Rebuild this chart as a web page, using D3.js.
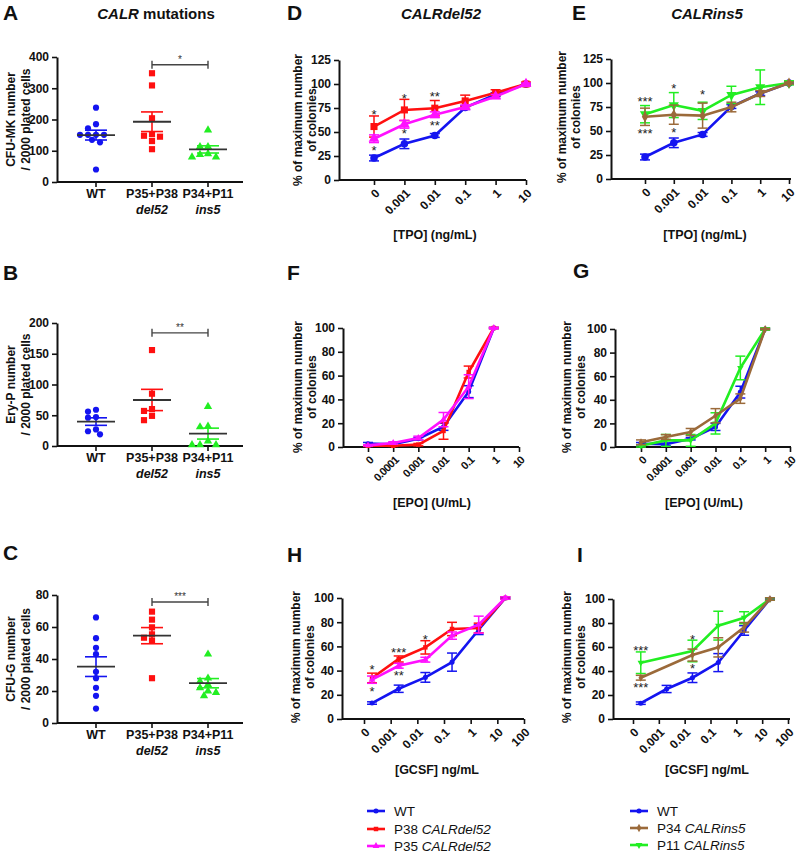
<!DOCTYPE html>
<html><head><meta charset="utf-8">
<script src="https://cdn.jsdelivr.net/npm/d3@7"></script>
<style>body{margin:0;background:#fff}svg{font-family:"Liberation Sans",Arial,sans-serif}</style>
</head><body><svg id="c" width="800" height="856"></svg>
<script>
// ---------- DATA ----------
const groupLabels = ["WT","P35+P38","P34+P11"];
const groupSub = ["","del52","ins5"];
// Panel A: CFU-MK number / 2000 plated cells
const mkWT = [238,185,172,151,151,151,151,135,127,40];
const mkDel52 = [348,309,204,153,145,148,131,105];
const mkIns5 = [166,113,113,90,88,80,80];
// Panel B: Ery-P
const eryWT = [59,56,47,46,27,24,19];
const eryDel52 = [156,85,60,57,49,42];
const eryIns5 = [64,31,32,8,2,2,2];
// Panel C: CFU-G
const gWT = [66,53,47,43,32,28,22,17,9];
const gDel52 = [69.6,64.6,59.8,55.4,53.3,51.4,28];
const gIns5 = [43,28,26,24,22,20,19,17];

// TPO panels D,E
const tpoDoses = ["0","0.001","0.01","0.1","1","10"];
const tpoWT = [22.9,37.7,46.4,75.5,89,100];     const tpoWTerr = [3,5,2,2,2,1];
const tpoP38 = [55.7,73,74.8,82.4,91,100];      const tpoP38err = [11,11,8,6,3,2];
const tpoP35 = [43,58,68,76,87,100];            const tpoP35err = [4,4,3,2,2,1];
const tpoP11 = [67.5,77,71,87.6,95.6,100];      const tpoP11err = [9,13,9,9,18,2];
const tpoP34 = [64.8,67,66,75,89,100];          const tpoP34err = [9,10,13,5,3,1];

// EPO panels F,G
const epoDoses = ["0","0.0001","0.001","0.01","0.1","1","10"];
const epoWT = [2.8,2.3,7,17,46.5,100];          const epoWTerr = [1,1,1,3,5,0.5];
const epoP38 = [1,1,2,13.5,63,100];             const epoP38err = [0.5,0.5,1,7,5,0.5];
const epoP35 = [1.4,3.4,7.6,23,50.7,100];       const epoP35err = [0.5,1,1.5,6,10,0.5];
const epoP11 = [1,5.6,5.6,20,67,100];           const epoP11err = [1,5,5,9,10,1];
const epoP34 = [4,8.5,12.7,26.5,41,100];        const epoP34err = [2,2,3,6,4,0.5];

// GCSF panels H,I (log axis, "0" drawn at 0.0002)
const gcsfTicks = [1e-4,1e-3,1e-2,1e-1,1,10,100];
const gcsfTickLabels = ["0","0.001","0.01","0.1","1","10","100"];
const gcsfDoses = [0.0002,0.002,0.02,0.2,2,20];
const gcsfWT = [13.2,25,34.4,47,73.8,100];      const gcsfWTerr = [1,3,4,7.5,4,0.5];
const gcsfP38 = [33.9,49.6,59.2,74.4,75.2,100]; const gcsfP38err = [4,2.5,5.5,5.5,4,1];
const gcsfP35 = [32.5,44,49,68.9,78,100];       const gcsfP35err = [3,2,2,3,7,1];
const gcsfInsDoses = [0.0002,0.02,0.2,2,20];
const gcsfP11 = [46.9,56.7,77.8,84.4,100];      const gcsfP11err = [9,9,12,5,1];
const gcsfP34 = [34.4,53.3,59.7,76.4,100];      const gcsfP34err = [2,5,8,4,1];

// ---------- STYLE ----------
const C = {wt:"#1414f0", p38:"#ff1010", p35:"#ff10ff", p11:"#22ee22", p34:"#9b6a3a", ax:"#111", dk:"#333"};
const svg = d3.select("#c");

function txt(g,x,y,s,o={}){
  const t=g.append("text").attr("x",x).attr("y",y).text(s)
   .attr("font-size",o.size||12).attr("font-weight",o.weight||"bold")
   .attr("text-anchor",o.anchor||"start").attr("fill",o.fill||"#111");
  if(o.italic) t.attr("font-style","italic");
  if(o.dy) t.attr("dy",o.dy);
  return t;
}
function panelLabel(x,y,s){ txt(svg,x,y,s,{size:21}); }
function yTitle(x1,x2,cy,l1,l2){
  [[x1,l1],[x2,l2]].forEach(([x,s])=>{
    svg.append("text").attr("transform",`translate(${x},${cy}) rotate(-90)`)
      .attr("text-anchor","middle").attr("dy","0.35em").attr("font-size",12)
      .attr("font-weight","bold").attr("fill","#111").text(s);
  });
}
function styleAxis(g){
  g.selectAll("path.domain").attr("stroke",C.ax).attr("stroke-width",2);
  g.selectAll(".tick line").attr("stroke",C.ax).attr("stroke-width",1.6);
  g.selectAll(".tick text").attr("font-size",12).attr("font-weight","bold").attr("fill","#111")
   .attr("font-family","'Liberation Sans',Arial,sans-serif");
}
const sym = {
  circle:d3.symbolCircle, square:d3.symbolSquare, tri:d3.symbolTriangle, diamond:d3.symbolDiamond
};

// ---------- SCATTER PANELS ----------
function swarm(vals,y,step,minD){
  const placed=[]; const off=new Array(vals.length);
  const order=vals.map((v,i)=>i).sort((a,b)=>vals[b]-vals[a]);
  for(const i of order){
    const py=y(vals[i]);
    for(let k=0;k<40;k++){
      const dx=k===0?0:(k%2?-1:1)*Math.ceil(k/2)*step;
      if(placed.every(p=>Math.hypot(p.x-dx,p.y-py)>=minD)){off[i]=dx;placed.push({x:dx,y:py});break;}
    }
  }
  return off;
}
function scatterPanel(o){
  const x0=57, x1=243;
  const y=d3.scaleLinear().domain([0,o.yMax]).range([o.yBot,o.yTop]);
  const x=d3.scalePoint().domain(groupLabels).range([96,208]);
  const ga=svg.append("g").attr("transform",`translate(${x0},0)`)
    .call(d3.axisLeft(y).tickValues(o.yTicks).tickSize(5).tickSizeOuter(0).tickPadding(3));
  styleAxis(ga);
  svg.append("line").attr("x1",x0).attr("x2",x1).attr("y1",o.yBot).attr("y2",o.yBot).attr("stroke",C.ax).attr("stroke-width",2);
  groupLabels.forEach((gname,i)=>{
    svg.append("line").attr("x1",x(gname)).attr("x2",x(gname)).attr("y1",o.yBot).attr("y2",o.yBot+5).attr("stroke",C.ax).attr("stroke-width",1.6);
    txt(svg,x(gname),o.yBot+16,gname,{anchor:"middle",size:12.5});
    if(groupSub[i]) txt(svg,x(gname),o.yBot+32,groupSub[i],{anchor:"middle",size:12.5,italic:true});
  });
  const groups=[{v:o.wt,c:C.wt,s:"circle",sz:30},{v:o.del,c:C.p38,s:"square",sz:38},{v:o.ins,c:C.p11,s:"tri",sz:30}];
  groups.forEach((G,i)=>{
    const cx=x(groupLabels[i]);
    const off=swarm(G.v,y,4,6);
    svg.append("g").selectAll("path").data(G.v).join("path")
      .attr("d",d3.symbol().type(sym[G.s]).size(G.sz))
      .attr("transform",(d,j)=>`translate(${cx+off[j]},${y(d)})`).attr("fill",G.c);
    const m=d3.mean(G.v), se=d3.deviation(G.v)/Math.sqrt(G.v.length);
    const eg=svg.append("g").attr("stroke",G.c).attr("stroke-width",1.6);
    eg.append("line").attr("x1",cx).attr("x2",cx).attr("y1",y(m-se)).attr("y2",y(m+se));
    [m-se,m+se].forEach(v=>eg.append("line").attr("x1",cx-11).attr("x2",cx+11).attr("y1",y(v)).attr("y2",y(v)));
    svg.append("line").attr("x1",cx-19).attr("x2",cx+19).attr("y1",y(m)).attr("y2",y(m)).attr("stroke",C.dk).attr("stroke-width",1.8);
  });
  // significance bar
  const sy=y(o.sigV), xa=x(groupLabels[1]), xb=x(groupLabels[2]);
  const sg=svg.append("g").attr("stroke","#444").attr("stroke-width",1.4);
  sg.append("line").attr("x1",xa).attr("x2",xb).attr("y1",sy).attr("y2",sy);
  [xa,xb].forEach(xx=>sg.append("line").attr("x1",xx).attr("x2",xx).attr("y1",sy-4).attr("y2",sy+4));
  txt(svg,(xa+xb)/2,sy-2,o.sig,{anchor:"middle",size:10,weight:"normal",fill:"#333"});
  yTitle(11,26,(o.yTop+o.yBot)/2,o.t1,o.t2);
}

// ---------- LINE PANELS ----------
function linePanel(o){
  const y=d3.scaleLinear().domain([0,o.yMax]).range([o.yBot,o.yTop]);
  const x=o.x;
  const ga=svg.append("g").attr("transform",`translate(${o.x0},0)`)
    .call(d3.axisLeft(y).tickValues(o.yTicks).tickSize(5).tickSizeOuter(0).tickPadding(3));
  styleAxis(ga);
  svg.append("line").attr("x1",o.x0).attr("x2",o.x1).attr("y1",o.yBot).attr("y2",o.yBot).attr("stroke",C.ax).attr("stroke-width",2);
  const gx=svg.append("g").attr("transform",`translate(0,${o.yBot})`)
    .call(d3.axisBottom(x).tickValues(o.tickVals).tickFormat((d,i)=>o.tickLabels[i]).tickSize(5).tickSizeOuter(0));
  styleAxis(gx);
  gx.select("path.domain").remove();
  gx.selectAll(".tick text").attr("x",0).attr("y",0).attr("dy","0.35em").attr("text-anchor","end")
    .attr("font-size",o.tickSize||12).attr("letter-spacing",o.ls||0)
    .attr("transform","translate(3,11) rotate(-45)");
  o.series.forEach(S=>{
    const pts=S.y.map((v,i)=>({x:x(S.x[i]),y:v,e:S.e[i]}));
    const g=svg.append("g");
    const eg=g.append("g").attr("stroke",S.c).attr("stroke-width",1.5);
    pts.forEach(p=>{
      eg.append("line").attr("x1",p.x).attr("x2",p.x).attr("y1",y(p.y-p.e)).attr("y2",y(p.y+p.e));
      [p.y-p.e,p.y+p.e].forEach(v=>eg.append("line").attr("x1",p.x-5).attr("x2",p.x+5).attr("y1",y(v)).attr("y2",y(v)));
    });
    g.append("path").datum(pts).attr("fill","none").attr("stroke",S.c).attr("stroke-width",2.6)
      .attr("d",d3.line().x(p=>p.x).y(p=>y(p.y)));
    g.selectAll("path.m").data(pts).join("path").attr("class","m")
      .attr("d",d3.symbol().type(sym[S.s]).size(S.sz))
      .attr("transform",p=>`translate(${p.x},${y(p.y)})${S.flip?" rotate(180)":""}`).attr("fill",S.c);
  });
  (o.stars||[]).forEach(s=>txt(svg,x(s.x),y(s.y)+7,s.t,{anchor:"middle",size:13,weight:"normal",fill:"#222"}));
  txt(svg,o.xtX,o.xtY,o.xTitle,{anchor:"middle",size:12.5});
  yTitle(o.yt1,o.yt2,o.ytY,"% of maximum number","of colonies");
}

// ---------- DRAW ----------
panelLabel(3,20,"A"); panelLabel(3,280,"B"); panelLabel(3,560,"C");
panelLabel(287,20,"D"); panelLabel(572,20,"E");
panelLabel(287,280,"F"); panelLabel(573,278,"G");
panelLabel(287,562,"H"); panelLabel(577,562,"I");

const t1=svg.append("text").attr("x",156).attr("y",19).attr("text-anchor","middle").attr("font-size",15).attr("font-weight","bold").attr("fill","#111");
t1.append("tspan").attr("font-style","italic").text("CALR"); t1.append("tspan").text(" mutations");
txt(svg,441,19,"CALRdel52",{anchor:"middle",size:15,italic:true});
txt(svg,707,19,"CALRins5",{anchor:"middle",size:15,italic:true});

scatterPanel({yMax:400,yTop:57,yBot:182,yTicks:[0,100,200,300,400],wt:mkWT,del:mkDel52,ins:mkIns5,sig:"*",sigV:375,t1:"CFU-MK number",t2:"/ 2000 plated cells"});
scatterPanel({yMax:200,yTop:323,yBot:446,yTicks:[0,50,100,150,200],wt:eryWT,del:eryDel52,ins:eryIns5,sig:"**",sigV:184,t1:"Ery-P number",t2:"/ 2000 plated cells"});
scatterPanel({yMax:80,yTop:595,yBot:723,yTicks:[0,20,40,60,80],wt:gWT,del:gDel52,ins:gIns5,sig:"***",sigV:75.6,t1:"CFU-G number",t2:"/ 2000 plated cells"});

const mk=(x,y,e,c,s,sz,flip)=>({x,y,e,c,s,sz,flip});
// D
linePanel({x0:339,x1:526,yTop:60,yBot:180,yMax:125,yTicks:[0,25,50,75,100,125],
  x:d3.scalePoint().domain(tpoDoses).range([374,526]),tickVals:tpoDoses,tickLabels:tpoDoses,
  series:[mk(tpoDoses,tpoWT,tpoWTerr,C.wt,"circle",45),mk(tpoDoses,tpoP38,tpoP38err,C.p38,"square",50),mk(tpoDoses,tpoP35,tpoP35err,C.p35,"tri",50)],
  stars:[{x:"0",y:70.8,t:"*"},{x:"0",y:33,t:"*"},{x:"0.001",y:87.5,t:"*"},{x:"0.001",y:51,t:"*"},{x:"0.01",y:89.6,t:"**"},{x:"0.01",y:59.4,t:"**"}],
  xTitle:"[TPO] (ng/mL)",xtX:435,xtY:239,yt1:298,yt2:312,ytY:120});
// E
linePanel({x0:611,x1:791,yTop:59,yBot:179,yMax:125,yTicks:[0,25,50,75,100,125],
  x:d3.scalePoint().domain(tpoDoses).range([645,789]),tickVals:tpoDoses,tickLabels:tpoDoses,
  series:[mk(tpoDoses,tpoWT,tpoWTerr,C.wt,"circle",45),mk(tpoDoses,tpoP11,tpoP11err,C.p11,"tri",45,true),mk(tpoDoses,tpoP34,tpoP34err,C.p34,"diamond",35)],
  stars:[{x:"0",y:83,t:"***"},{x:"0",y:50,t:"***"},{x:"0.001",y:97,t:"*"},{x:"0.001",y:51,t:"*"},{x:"0.01",y:90.6,t:"*"}],
  xTitle:"[TPO] (ng/mL)",xtX:705,xtY:239,yt1:562,yt2:576,ytY:117});
// F
const epoPts=epoDoses.slice(0,6);
linePanel({x0:343,x1:519,yTop:328,yBot:447,yMax:100,yTicks:[0,20,40,60,80,100],
  x:d3.scalePoint().domain(epoDoses).range([368,519]),tickVals:epoDoses,tickLabels:epoDoses,tickSize:11,ls:-0.6,
  series:[mk(epoPts,epoWT,epoWTerr,C.wt,"circle",20),mk(epoPts,epoP38,epoP38err,C.p38,"square",20),mk(epoPts,epoP35,epoP35err,C.p35,"tri",20)],
  xTitle:"[EPO] (U/mL)",xtX:432,xtY:507,yt1:298,yt2:312,ytY:387});
// G
linePanel({x0:615,x1:791,yTop:329,yBot:447,yMax:100,yTicks:[0,20,40,60,80,100],
  x:d3.scalePoint().domain(epoDoses).range([641,790]),tickVals:epoDoses,tickLabels:epoDoses,tickSize:11,ls:-0.6,
  series:[mk(epoPts,epoWT,epoWTerr,C.wt,"circle",20),mk(epoPts,epoP11,epoP11err,C.p11,"tri",18,true),mk(epoPts,epoP34,epoP34err,C.p34,"diamond",18)],
  xTitle:"[EPO] (U/mL)",xtX:704,xtY:507,yt1:567,yt2:581,ytY:387});
// H
linePanel({x0:342,x1:524,yTop:598,yBot:719,yMax:100,yTicks:[0,20,40,60,80,100],
  x:d3.scaleLog().domain([1e-4,100]).range([364,524]),tickVals:gcsfTicks,tickLabels:gcsfTickLabels,
  series:[mk(gcsfDoses,gcsfWT,gcsfWTerr,C.wt,"circle",20),mk(gcsfDoses,gcsfP38,gcsfP38err,C.p38,"square",20),mk(gcsfDoses,gcsfP35,gcsfP35err,C.p35,"tri",20)],
  stars:[{x:0.0002,y:43,t:"*"},{x:0.0002,y:24.8,t:"*"},{x:0.002,y:57,t:"***"},{x:0.002,y:38,t:"**"},{x:0.02,y:67.8,t:"*"}],
  xTitle:"[GCSF] ng/mL",xtX:437,xtY:774,yt1:296,yt2:310,ytY:657});
// I
linePanel({x0:613,x1:790,yTop:599,yBot:719,yMax:100,yTicks:[0,20,40,60,80,100],
  x:d3.scaleLog().domain([1e-4,100]).range([633,788]),tickVals:gcsfTicks,tickLabels:gcsfTickLabels,
  series:[mk(gcsfDoses,gcsfWT,gcsfWTerr,C.wt,"circle",20),mk(gcsfInsDoses,gcsfP11,gcsfP11err,C.p11,"tri",18,true),mk(gcsfInsDoses,gcsfP34,gcsfP34err,C.p34,"diamond",18)],
  stars:[{x:0.0002,y:59,t:"***"},{x:0.0002,y:28,t:"***"},{x:0.02,y:68,t:"*"},{x:0.02,y:44,t:"*"}],
  xTitle:"[GCSF] ng/mL",xtX:707,xtY:774,yt1:567,yt2:581,ytY:657});

// ---------- LEGENDS ----------
function legend(x,rows,ys){
  rows.forEach((r,i)=>{
    const y=ys[i];
    svg.append("line").attr("x1",x).attr("x2",x+18).attr("y1",y).attr("y2",y).attr("stroke",r.c).attr("stroke-width",2.6);
    svg.append("path").attr("d",d3.symbol().type(sym[r.s]).size(20)).attr("transform",`translate(${x+9},${y})${r.flip?" rotate(180)":""}`).attr("fill",r.c);
    const t=svg.append("text").attr("x",x+27).attr("y",y).attr("dy","0.35em").attr("font-size",13.5).attr("fill","#111");
    t.append("tspan").text(r.a);
    if(r.b) t.append("tspan").attr("font-style","italic").text(r.b);
  });
}
legend(367,[{c:C.wt,s:"circle",a:"WT"},{c:C.p38,s:"square",a:"P38 ",b:"CALRdel52"},{c:C.p35,s:"tri",a:"P35 ",b:"CALRdel52"}],[811,829,846]);
legend(630,[{c:C.wt,s:"circle",a:"WT"},{c:C.p34,s:"diamond",a:"P34 ",b:"CALRins5"},{c:C.p11,s:"tri",flip:true,a:"P11 ",b:"CALRins5"}],[811,828,845]);
</script></body></html>
